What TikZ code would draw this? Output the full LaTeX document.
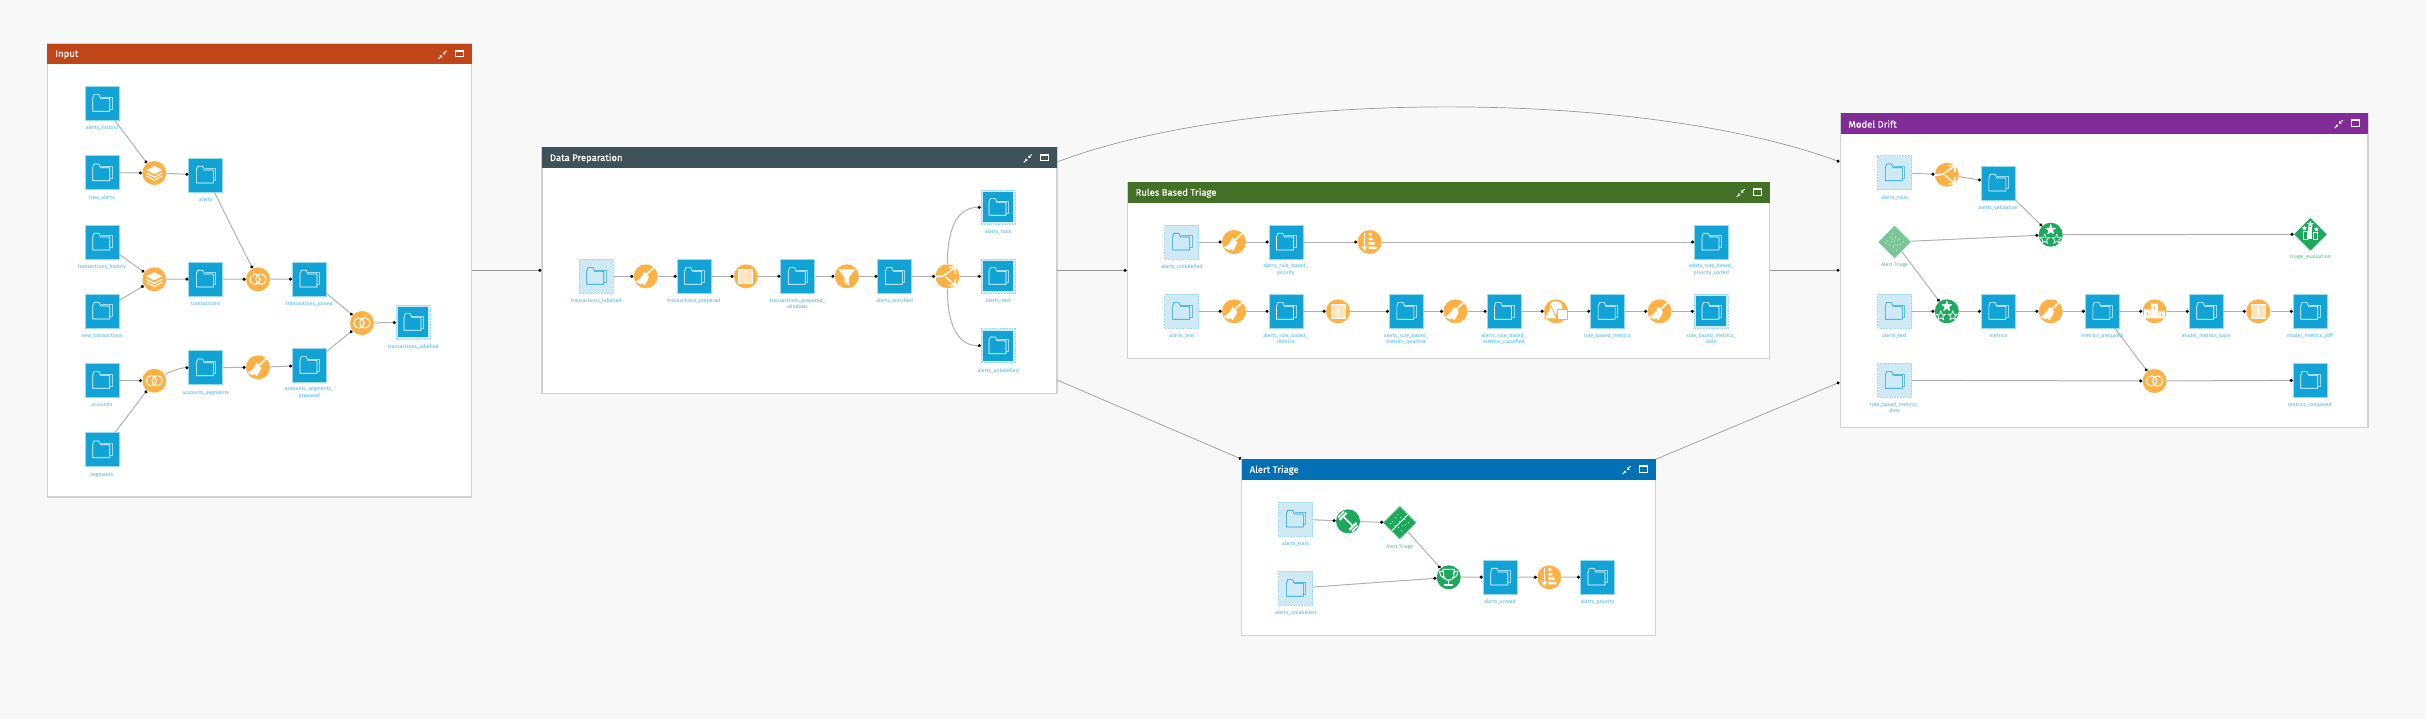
\documentclass[tikz,border=0pt]{standalone}
\usepackage{fontspec}
\setmainfont{Fira Sans}
\newfontfamily\zonefont[FakeBold=.35]{Fira Sans}
\usetikzlibrary{arrows.meta,shapes.geometric,fit}

\definecolor{pagebg}{HTML}{F8F8F8}
\definecolor{dsblue}{HTML}{12A3D6}
\definecolor{dslight}{HTML}{CFE9F5}
\definecolor{dsedge}{HTML}{9ADAF0}
\definecolor{dstext}{HTML}{3FB4E0}
\definecolor{preporange}{HTML}{FDB144}
\definecolor{mlgreen}{HTML}{1DA85C}
\definecolor{mllight}{HTML}{79C795}
\definecolor{mltext}{HTML}{55BB80}
\definecolor{inputred}{HTML}{C04518}
\definecolor{prepslate}{HTML}{3F5159}
\definecolor{rulesgreen}{HTML}{417026}
\definecolor{triageblue}{HTML}{0170B4}
\definecolor{driftpurple}{HTML}{802B96}
\definecolor{edgegrey}{HTML}{B0B0B0}

\tikzset{
  zonebox/.style={draw=black!18,line width=.6pt,fill=white,inner sep=0pt},
  zonehead/.style={inner sep=0pt},
  zonetitle/.style={text=white,inner sep=0pt,font=\zonefont\fontsize{4.75}{6}\selectfont},
  dataset/.style={rectangle,fill=dsblue,draw=dsedge,line width=.25pt,minimum size=17pt,inner sep=0pt},
  dsshared/.style={rectangle,fill=dslight,draw=dsedge,dash pattern=on .9pt off .5pt,line width=.5pt,minimum size=17pt,inner sep=0pt},
  dsexport/.style={rectangle,fill=dslight,draw=dsedge,dash pattern=on .9pt off .5pt,line width=.5pt,minimum size=17pt,inner sep=0pt,
    path picture={\fill[dsblue] ([shift={(1pt,1pt)}]path picture bounding box.south west) rectangle ([shift={(-1pt,-1pt)}]path picture bounding box.north east);}},
  recipe/.style={circle,fill=preporange,minimum size=12pt,inner sep=0pt},
  mlrecipe/.style={circle,fill=mlgreen,minimum size=12pt,inner sep=0pt},
  savedmodel/.style={diamond,aspect=1,fill=#1,minimum size=16.5pt,inner sep=0pt},
  dslabel/.style={anchor=north,align=center,inner sep=0pt,text=dstext,font=\fontsize{2.6}{3.35}\selectfont,execute at begin node=\strut},
  mllabel/.style={dslabel,text=mltext},
  edge/.style={draw=edgegrey,line width=.5pt,-{Circle[length=1.5pt,color=black]}},
  zoneedge/.style={edge,draw=black!40,line width=.35pt},
  icon/.style={draw=white,line width=.4pt,line join=round},
  pics/folder/.style={code={
    \draw[#1,line width=.32pt,line join=round] (-9.3,-5)--(-8,-8.7)--(-3,-8.7)--(-1.5,-5)--(7.7,-5)--(7.7,8)--(-9.3,8)--cycle;
    \draw[#1,opacity=.6,line width=.3pt,line join=round] (-1,-6.5)--(10,-6.5)--(10,5.7)--(7.7,5.7);
  }},
  pics/pin/.style={code={
    \draw[white,line width=.5pt] (-4,4)--(-1,1) (4,-4)--(1,-1);
    \fill[white] (-.5,.5)--(-3,.5)--(-.5,3)--cycle (.5,-.5)--(3,-.5)--(.5,-3)--cycle;
  }},
  pics/winbox/.style={code={
    \draw[white,line width=.45pt] (-4,-3.2) rectangle (4,3.2);
    \draw[white,line width=.45pt] (-4,-2.2)--(4,-2.2);
  }},
  pics/stack/.style={code={
    \fill[white] (0,-7)--(8,-3)--(0,1)--(-8,-3)--cycle;
    \draw[icon,line width=.55pt] (-8,0)--(0,4)--(8,0) (-8,3)--(0,7)--(8,3);
  }},
  pics/joincirc/.style={code={
    \draw[icon,line width=.5pt] (-2.9,0) circle (5.2) (2.9,0) circle (5.2);
    \draw[white,opacity=.6,line width=.35pt,densely dotted] (0,-4)--(0,4);
  }},
  pics/broom/.style={code={
    \draw[white,line width=.8pt] (1,-2)--(8.3,-8.8);
    \fill[white] (-1.5,-4.5)--(3.2,.3) .. controls (2.5,4) and (0,7) .. (-1.5,9)--(-3.5,6.5)--(-5,8)--(-10.5,5.5) .. controls (-6,3.5) and (-3,0) .. cycle;
  }},
  pics/columns/.style={code={
    \draw[icon,line width=.5pt,fill=white!65!preporange] (-7,-7) rectangle (0,7) (0,-7) rectangle (7,7);
  }},
  pics/funnel/.style={code={
    \fill[white] (-8.5,-7)--(8.5,-7)--(2.2,1)--(2.2,9)--(-2.2,6)--(-2.2,1)--cycle;
  }},
  pics/splitter/.style={code={
    \draw[white,line width=.85pt] (-12,.5)--(-4,-.5);
    \draw[white,line width=.7pt] (-4,-.5)--(7.5,-8.5) (1.5,-9)--(8,-9)--(8,-2.5);
    \draw[white,line width=.7pt] (-2,.5)--(7.5,8.5) (1.5,9)--(8,9)--(8,2.5);
  }},
  pics/sorter/.style={code={
    \draw[white,line width=.6pt,-{Stealth[length=2.6pt,width=3pt]}] (-5,-9)--(-5,9);
    \fill[white] (-1,-9) rectangle (2,-6.5) (-1,-4.5) rectangle (3,-2) (-1,0) rectangle (5,2.5) (-1,4.5) rectangle (7,7);
  }},
  pics/shapeset/.style={code={
    \fill[white] (0,-4) circle (6.3);
    \fill[white,draw=preporange,line width=.4pt] (-11.5,7.5)--(-5,-5.5)--(1,7.5)--cycle;
    \fill[white,draw=preporange,line width=.4pt] (1.2,-2) rectangle (11.5,8.5);
  }},
  pics/star5/.style={code={
    \draw[#1,line width=.35pt,line join=round] (0,-1)--(.225,-.309)--(.951,-.309)--(.363,.118)--(.588,.809)--(0,.382)--(-.588,.809)--(-.363,.118)--(-.951,-.309)--(-.225,-.309)--cycle;
  }},
  pics/stars/.style={code={
    \pic[scale=5.2] at (0,-5) {star5={fill=white,draw=white}};
    \pic[scale=5.2] at (-6,4.5) {star5={draw=white}};
    \pic[scale=5.2] at (6,4.5) {star5={draw=white}};
  }},
  pics/dumbbell/.style={code={
    \draw[white,line width=.8pt] (-4,-4)--(4,4);
    \draw[white,line width=1.1pt] (-8.5,-1.5)--(-1.5,-8.5) (1.5,8.5)--(8.5,1.5);
    \draw[white,line width=.7pt] (-10,-4)--(-4,-10) (4,10)--(10,4);
  }},
  pics/trophy/.style={code={
    \draw[icon,line width=.55pt] (-5.5,-8)--(5.5,-8)--(5,-1) .. controls (4.5,2) and (2,3) .. (0,3) .. controls (-2,3) and (-4.5,2) .. (-5,-1)--cycle;
    \draw[icon,line width=.5pt] (-5.5,-6)--(-9,-6) .. controls (-9,-2) and (-7,0) .. (-4.5,1);
    \draw[icon,line width=.5pt] (5.5,-6)--(9,-6) .. controls (9,-2) and (7,0) .. (4.5,1);
    \draw[icon,line width=.6pt] (0,3)--(0,7);
    \fill[white] (-4.5,7) rectangle (4.5,8.6);
  }},
  pics/podium/.style={code={
    \fill[white] (-3.5,-8) rectangle (3.5,7) (-10.5,-2) rectangle (-4,7) (4,0) rectangle (10.5,7);
    \fill[preporange] (-.6,-5) rectangle (.6,-2) (-7.8,1) rectangle (-6.6,4) (6.6,2.5) rectangle (7.8,5);
  }},
  pics/modelcut/.style={code={
    \draw[white,line width=.45pt] (-8,8)--(8,-8);
    \foreach \a/\b in {-7/-1,-4/-5,-2/-8,1/-5,-5/3,0/-1,5/-3,9/0,3/3,6/2,-1/5,2/8,-9/1}
      \fill[white] (\a,\b) circle (.55);
  }},
  pics/modeldots/.style={code={
    \foreach \a/\b in {-7/-1,-4/-5,-2/-8,1/-5,-5/3,0/-1,5/-3,9/0,3/3,6/2,-1/5,2/8,-9/1,-3/0,3/-2,0/3,-2/-3}
      \fill[white] (\a,\b) circle (.6);
  }},
  pics/evalbars/.style={code={
    \pic[scale=3] at (0,-10) {star5={fill=white,draw=white}};
    \pic[scale=2] at (-6,-6) {star5={fill=white,draw=white}};
    \pic[scale=2] at (6,-5) {star5={fill=white,draw=white}};
    \draw[white,line width=.4pt] (-7,-3) rectangle (-3,5);
    \fill[white] (-2,-7) rectangle (2,5);
    \draw[white,line width=.4pt] (3,-2) rectangle (7,5);
  }},
}

\begin{document}
\begin{tikzpicture}[x=.5pt,y=-.5pt]
  \useasboundingbox[fill=pagebg] (0,0) rectangle (2426,719);

  % zones
  \foreach \n/\t/\c/\xa/\ya/\xb/\yb/\yh in {
    inputzone/Input/inputred/47.3/44/471.7/497/64.3,
    prepzone/Data Preparation/prepslate/542/147.3/1057/393.3/168.3,
    ruleszone/Rules Based Triage/rulesgreen/1127.6/182.3/1769.8/358.7/202.7,
    triagezone/Alert Triage/triageblue/1241.7/459.3/1655.7/635.3/480,
    driftzone/Model Drift/driftpurple/1840.5/113.3/2367.9/427.7/133.7}{
    \node[zonebox,fit={(\xa,\ya) (\xb,\yb)}] (\n) {};
    \node[zonehead,fill=\c,fit={(\xa,\ya) (\xb,\yh)}] (\n-head) {};
    \node[zonetitle,anchor=west] (\n-title) at ([xshift=4pt,yshift=-.25pt]\n-head.west) {\t};
    \pic at ([xshift=-14.8pt,yshift=-.3pt]\n-head.east) {pin};
    \pic at ([xshift=-6.5pt,yshift=.3pt]\n-head.east) {winbox};
  }

  % datasets
  \foreach \s/\n/\x/\y/\t in {
    dataset/i-hist/102/103.3/alerts\_history,
    dataset/i-new/102/172.7/new\_alerts,
    dataset/i-thist/102/242/transactions\_history,
    dataset/i-tnew/102/311/new\_transactions,
    dataset/i-acc/102/380.3/accounts,
    dataset/i-seg/102/449.7/segments,
    dataset/i-alerts/205.7/175/alerts,
    dataset/i-trans/205.7/279/transactions,
    dataset/i-as/205.7/367.7/accounts\_segments,
    dataset/i-joined/309.3/279/transactions\_joined,
    dataset/i-asp/309.3/365.3/accounts\_segments\_\\prepared,
    dsexport/i-labelled/413.3/322.3/transactions\_labelled,
    dataset/d-tp/693.9/276.3/transactions\_prepared,
    dataset/d-tpw/797.6/276.3/transactions\_prepared\_\\windows,
    dataset/d-enriched/894.7/276.3/alerts\_enriched,
    dsexport/d-train/998.3/207.3/alerts\_train,
    dsexport/d-test/998.3/276.3/alerts\_test,
    dsexport/d-unl/998.3/345.7/alerts\_unlabelled,
    dataset/r-priority/1285.8/242/alerts\_rule\_based\_\\priority,
    dataset/r-sorted/1711.3/242/alerts\_rule\_based\_\\priority\_sorted,
    dataset/r-metrics/1285.8/311.3/alerts\_rule\_based\_\\metrics,
    dataset/r-quantile/1406.2/311.3/alerts\_rule\_based\_\\metrics\_quantile,
    dataset/r-classified/1503.8/311.3/alerts\_rule\_based\_\\metrics\_classified,
    dataset/r-rbm/1607.4/311.3/rule\_based\_metrics,
    dsexport/r-date/1711.3/311.3/rule\_based\_metrics\_\\date,
    dataset/a-scored/1500/577/alerts\_scored,
    dataset/a-priority/1597.3/577/alerts\_priority,
    dataset/m-val/1998.2/183/alerts\_validation,
    dataset/m-metrics/1998.2/311.3/metrics,
    dataset/m-prep/2102.1/311.3/metrics\_prepared,
    dataset/m-topds/2206/311.3/model\_metrics\_topn,
    dataset/m-diff/2310/311.3/model\_metrics\_diff,
    dataset/m-compared/2310/380.3/metrics\_compared}{
    \node[\s] (\n) at (\x,\y) {};
    \pic at (\n) {folder=white};
    \node[dslabel] (\n-lab) at (\x,\y+21.5) {\t};
  }
  \foreach \n/\x/\y/\t in {
    d-tl/596/276.3/transactions\_labelled,
    r-unl/1181.9/242/alerts\_unlabelled,
    r-test/1181.9/311.3/alerts\_test,
    a-train/1295.7/519/alerts\_train,
    a-unl/1295.7/588.3/alerts\_unlabelled,
    m-train/1894.6/172.7/alerts\_train,
    m-test/1894.6/311.3/alerts\_test,
    m-date/1894.6/380.3/rule\_based\_metrics\_\\date}{
    \node[dsshared] (\n) at (\x,\y) {};
    \pic at (\n) {folder=dsblue};
    \node[dslabel] (\n-lab) at (\x,\y+21.5) {\t};
  }

  % recipes
  \foreach \s/\n/\x/\y/\ic in {
    recipe/i-stack1/154.3/173/stack,
    recipe/i-stack2/154.3/279.3/stack,
    recipe/i-join1/258/279.3/joincirc,
    recipe/i-join2/154.3/380.7/joincirc,
    recipe/i-join3/362/323/joincirc,
    recipe/i-clean/258/367.3/broom,
    recipe/d-clean/645.7/276.3/broom,
    recipe/d-window/745.9/276.3/columns,
    recipe/d-filter/846.8/276.3/funnel,
    recipe/d-split/947.4/276.3/splitter,
    recipe/r-clean1/1234/242/broom,
    recipe/r-sort/1369.6/242/sorter,
    recipe/r-clean2/1234/311.3/broom,
    recipe/r-window/1338/311.3/columns,
    recipe/r-clean3/1455.4/311.3/broom,
    recipe/r-shapes/1556/311.3/shapeset,
    recipe/r-clean4/1659.6/311.3/broom,
    mlrecipe/a-fit/1348/521.3/dumbbell,
    mlrecipe/a-score/1448.7/577.3/trophy,
    recipe/a-sort/1549.3/577.3/sorter,
    recipe/m-split/1946.8/174.7/splitter,
    mlrecipe/m-eval1/2050.7/234.7/stars,
    mlrecipe/m-eval2/1946.8/311.3/stars,
    recipe/m-clean/2050.7/311.3/broom,
    recipe/m-topn/2154.6/311.3/podium,
    recipe/m-window/2258.2/311.3/columns,
    recipe/m-join/2154.6/381/joincirc}{
    \node[\s] (\n) at (\x,\y) {};
    \pic at (\n) {\ic};
  }

  % models
  \node[savedmodel=mlgreen,draw=mllight,dash pattern=on .9pt off .5pt,line width=.5pt] (a-model) at (1399.7,522.7) {};
  \pic at (a-model) {modelcut};
  \node[mllabel] (a-model-lab) at (1399.7,543) {Alert Triage};
  \node[savedmodel=mllight] (m-model) at (1894.6,242) {};
  \pic at (m-model) {modeldots};
  \node[mllabel] (m-model-lab) at (1894.6,261) {Alert Triage};
  \node[savedmodel=mlgreen] (m-eval) at (2310.4,234.3) {};
  \pic at (m-eval) {evalbars};
  \node[mllabel] (m-eval-lab) at (2310.4,253) {triage\_evaluation};

  % flows inside the zones
  \foreach \a/\b in {
    i-hist/i-stack1, i-new/i-stack1, i-stack1/i-alerts, i-alerts/i-join1,
    i-thist/i-stack2, i-tnew/i-stack2, i-stack2/i-trans, i-trans/i-join1,
    i-join1/i-joined, i-joined/i-join3, i-asp/i-join3, i-join3/i-labelled,
    i-acc/i-join2, i-seg/i-join2, i-as/i-clean, i-clean/i-asp,
    d-tl/d-clean, d-clean/d-tp, d-tp/d-window, d-window/d-tpw, d-tpw/d-filter,
    d-filter/d-enriched, d-enriched/d-split, d-split/d-test,
    r-unl/r-clean1, r-clean1/r-priority, r-priority/r-sort, r-sort/r-sorted,
    r-test/r-clean2, r-clean2/r-metrics, r-metrics/r-window, r-window/r-quantile,
    r-quantile/r-clean3, r-clean3/r-classified, r-classified/r-shapes,
    r-shapes/r-rbm, r-rbm/r-clean4, r-clean4/r-date,
    a-train/a-fit, a-fit/a-model, a-model/a-score, a-unl/a-score,
    a-score/a-scored, a-scored/a-sort, a-sort/a-priority,
    m-train/m-split, m-split/m-val, m-val/m-eval1, m-model/m-eval1,
    m-eval1/m-eval, m-model/m-eval2, m-test/m-eval2, m-eval2/m-metrics,
    m-metrics/m-clean, m-clean/m-prep, m-prep/m-topn, m-topn/m-topds,
    m-topds/m-window, m-window/m-diff, m-prep/m-join, m-date/m-join, m-join/m-compared}
    \draw[edge] (\a) -- (\b);
  \draw[edge] (i-join2) .. controls +(12,-7) and +(-10,0) .. (i-as.west);
  \draw[edge] (d-split.north) .. controls +(0,-42) and +(-20,0) .. (d-train.west);
  \draw[edge] (d-split.south) .. controls +(0,42) and +(-20,0) .. (d-unl.west);

  % ports between the zones
  \coordinate (inputout) at (471.7,270.3);
  \coordinate (prepin) at (541.3,270.3);
  \coordinate (prepout) at (1057,270.3);
  \coordinate (rulesin) at (1126.6,270.3);
  \coordinate (rulesout) at (1769.8,270.3);
  \coordinate (driftin) at (1839.5,270.3);
  \coordinate (prepup) at (1057,162);
  \coordinate (driftup) at (1839.5,161.7);
  \coordinate (prepdown) at (1057,380);
  \coordinate (triagein) at (1241.3,459);
  \coordinate (triageout) at (1655.7,459.3);
  \coordinate (driftdown) at (1839.5,382.3);

  \foreach \a/\b in {inputout/prepin, prepout/rulesin, rulesout/driftin, prepdown/triagein, triageout/driftdown}
    \draw[zoneedge] (\a) -- (\b);
  \draw[zoneedge] (prepup) .. controls (1250,88.7) and (1640,88.7) .. (driftup);
\end{tikzpicture}
\end{document}
